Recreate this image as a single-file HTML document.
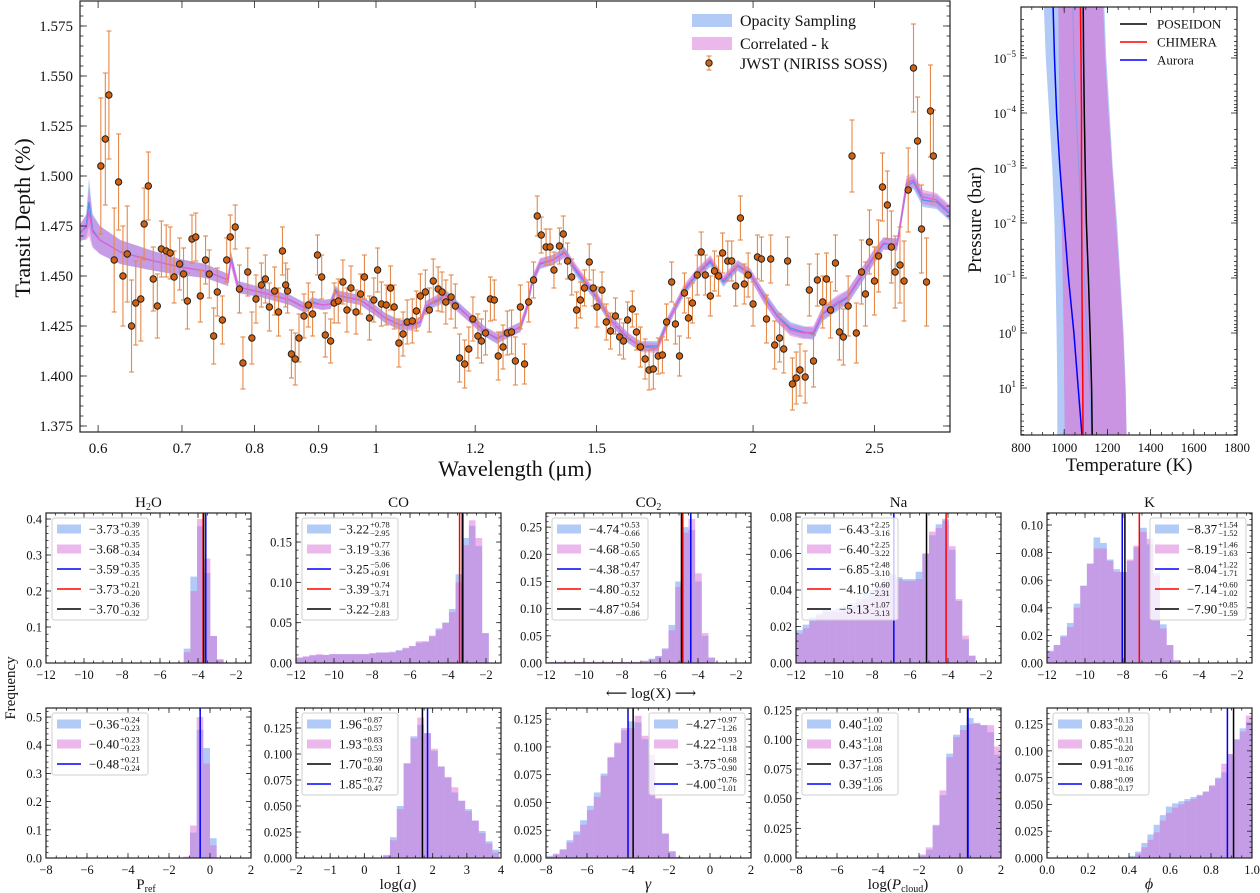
<!DOCTYPE html>
<html><head><meta charset="utf-8">
<style>
body{margin:0;background:#fff}
svg{display:block;font-family:"Liberation Serif","DejaVu Serif",serif}
</style></head>
<body>
<svg id="fig" width="1260" height="893" viewBox="0 0 1260 893" xmlns="http://www.w3.org/2000/svg">
<defs>
<clipPath id="clipMain"><rect x="80" y="1" width="870" height="431"/></clipPath>
<clipPath id="clipPT"><rect x="1021" y="7" width="216" height="428"/></clipPath>
</defs>
</svg>
<script>
// ---------------- MAIN SPECTRUM DATA ----------------
const obsWl = [0.603,0.608,0.612,0.618,0.623,0.628,0.633,0.638,0.643,0.649,0.653,0.658,0.664,0.669,
0.674,0.680,0.685,0.690,0.697,0.702,0.707,0.713,0.718,0.724,0.731,0.736,0.742,0.747,0.754,0.760,0.765,0.772,0.778,0.783,0.790,0.796,0.802,0.810,0.816,0.822,0.830,0.836,0.842,0.847,0.850,0.856,0.862,0.868,
0.876,0.883,0.890,0.898,0.905,0.911,0.920,0.926,0.933,0.941,0.948,0.955,0.964,0.972,0.979,0.988,0.996,1.003,1.010,1.019,1.027,1.034,1.043,1.051,1.059,1.069,1.077,1.085,1.095,1.103,1.111,1.121,1.129,1.137,1.148,1.157,1.166,1.177,1.186,1.195,1.206,1.214,1.223,1.234,1.243,1.252,1.263,1.273,1.283,1.292,1.304,
1.314,1.324,1.336,1.345,1.355,1.367,1.377,1.387,1.401,1.411,1.422,1.433,1.446,1.456,1.467,1.480,1.491,1.501,1.515,1.527,1.539,1.553,1.565,1.576,1.588,1.602,1.614,1.626,1.640,1.652,1.665,1.680,1.693,1.706,1.722,1.734,1.747,1.763,1.776,1.789,1.805,1.818,1.832,1.849,1.863,1.877,1.891,1.909,1.923,1.937,1.954,1.968,1.982,2.000,2.016,2.031,
2.050,2.066,2.081,2.100,2.116,2.131,2.150,2.165,2.180,2.201,2.218,2.235,2.251,2.273,2.289,2.306,2.327,2.344,2.361,2.382,2.399,2.418,2.441,
2.459,2.477,2.500,2.519,2.537,2.560,2.579,2.597,2.620,2.640,2.660,2.686,2.706,2.726,2.751,2.771,2.786];
const obsDepth = [1.505,1.5185,1.5405,1.458,1.497,1.450,1.461,1.425,1.4365,1.4385,1.476,1.495,1.4485,1.435,
1.4635,1.4625,1.4615,1.4495,1.456,1.451,1.4375,1.4685,1.4695,1.440,1.458,1.451,1.420,1.442,1.428,1.458,1.4695,1.4745,1.4435,1.4065,1.452,1.419,1.4385,1.4455,1.4485,1.4345,1.4425,1.432,1.4625,1.4455,1.4425,1.411,1.4085,1.419,
1.430,1.4355,1.431,1.4605,1.4495,1.4205,1.4175,1.4365,1.4375,1.447,1.433,1.444,1.432,1.441,1.4495,1.429,1.438,1.453,1.436,1.4355,1.444,1.4345,1.4165,1.421,1.427,1.4275,1.4325,1.440,1.442,1.433,1.4475,1.4435,1.442,1.437,1.4395,1.435,1.409,1.406,1.4135,1.4285,1.420,1.4175,1.4215,1.4385,1.438,1.410,1.4145,1.4215,1.422,1.4075,1.4345,
1.406,1.437,1.448,1.480,1.4705,1.4645,1.4645,1.453,1.465,1.471,1.4575,1.4495,1.433,1.438,1.444,1.457,1.444,1.4345,1.443,1.427,1.4225,1.430,1.4195,1.4175,1.428,1.4335,1.422,1.4145,1.4085,1.403,1.4035,1.410,1.4105,1.427,1.447,1.426,1.410,1.4415,1.429,1.4365,1.4505,1.462,1.4505,1.440,1.4525,1.450,1.4615,1.4575,1.4575,1.445,1.479,1.446,1.4505,1.436,1.4595,1.4585,
1.4285,1.4585,1.4155,1.419,1.4135,1.4575,1.396,1.399,1.403,1.3995,1.443,1.4075,1.448,1.437,1.4485,1.433,1.4565,1.422,1.4195,1.435,1.510,1.4215,1.452,
1.441,1.467,1.4475,1.460,1.4945,1.4855,1.4645,1.452,1.4555,1.4475,1.493,1.554,1.5175,1.4735,1.447,1.5325,1.510];
const obsErr = [0.034,0.033,0.032,0.026,0.024,0.025,0.024,0.023,0.021,0.021,0.018,0.017,0.016,0.016,
0.014,0.013,0.013,0.013,0.013,0.013,0.014,0.012,0.012,0.013,0.012,0.012,0.014,0.012,0.012,0.011,0.011,0.011,0.012,0.013,0.012,0.013,0.012,0.011,0.012,0.012,0.012,0.012,0.012,0.011,0.011,0.012,0.013,0.012,
0.011,0.011,0.011,0.010,0.011,0.011,0.011,0.010,0.011,0.011,0.011,0.011,0.011,0.010,0.011,0.011,0.011,0.011,0.011,0.010,0.011,0.011,0.012,0.011,0.011,0.011,0.010,0.011,0.011,0.011,0.011,0.011,0.010,0.011,0.011,0.011,0.012,0.012,0.011,0.011,0.011,0.011,0.011,0.011,0.010,0.012,0.011,0.011,0.011,0.012,0.011,
0.010,0.010,0.009,0.010,0.009,0.009,0.009,0.009,0.009,0.009,0.009,0.009,0.009,0.009,0.009,0.009,0.009,0.010,0.009,0.009,0.009,0.009,0.009,0.009,0.009,0.009,0.009,0.010,0.010,0.010,0.010,0.009,0.009,0.009,0.010,0.010,0.010,0.010,0.010,0.010,0.010,0.010,0.010,0.010,0.010,0.010,0.010,0.010,0.010,0.010,0.011,0.010,0.011,0.011,0.011,0.011,
0.012,0.012,0.012,0.012,0.012,0.012,0.013,0.013,0.013,0.013,0.013,0.013,0.013,0.013,0.013,0.014,0.014,0.014,0.014,0.015,0.018,0.015,0.016,
0.016,0.016,0.017,0.018,0.017,0.017,0.018,0.018,0.019,0.020,0.021,0.022,0.022,0.022,0.022,0.023,0.023];

const modelWl = [0.580,0.587,0.590,0.594,0.602,0.625,0.660,0.697,0.731,0.762,0.766,0.776,0.808,0.854,0.878,0.889,0.906,0.920,0.928,0.936,0.971,0.998,1.017,1.045,1.069,1.085,1.096,1.125,1.135,1.157,1.189,1.223,1.249,1.279,1.304,1.320,1.332,1.352,1.384,1.415,1.446,1.501,1.539,1.588,1.626,1.677,1.709,1.760,1.805,1.849,1.894,1.944,1.989,2.039,2.092,2.142,2.193,2.235,2.273,2.336,2.378,2.436,2.495,2.542,2.606,2.652,2.686,2.733,2.802,2.872];
const modelCK = [1.472,1.474,1.482,1.472,1.468,1.462,1.458,1.4545,1.4525,1.448,1.458,1.4445,1.442,1.438,1.434,1.4365,1.4355,1.436,1.442,1.440,1.438,1.433,1.429,1.4255,1.425,1.427,1.435,1.439,1.4405,1.4355,1.429,1.422,1.419,1.422,1.4245,1.4345,1.447,1.4565,1.458,1.4615,1.453,1.4395,1.428,1.4195,1.4145,1.414,1.4265,1.443,1.4515,1.458,1.448,1.4555,1.4515,1.4395,1.4295,1.423,1.4215,1.422,1.4315,1.437,1.4395,1.4495,1.4595,1.4665,1.4655,1.4965,1.498,1.4895,1.488,1.482];
const modelOS = [1.471,1.475,1.487,1.473,1.468,1.462,1.458,1.4545,1.4525,1.448,1.459,1.4445,1.442,1.438,1.434,1.437,1.4355,1.436,1.443,1.440,1.438,1.433,1.429,1.4255,1.426,1.427,1.435,1.438,1.441,1.436,1.429,1.422,1.4185,1.422,1.4245,1.434,1.447,1.456,1.458,1.462,1.452,1.439,1.428,1.419,1.415,1.415,1.427,1.442,1.451,1.457,1.447,1.455,1.451,1.440,1.430,1.424,1.422,1.421,1.431,1.436,1.439,1.449,1.459,1.466,1.466,1.495,1.497,1.488,1.487,1.481];
const modelSig = [0.004,0.006,0.012,0.008,0.007,0.006,0.005,0.004,0.0035,0.003,0.0035,0.003,0.0025,0.0025,0.0025,0.0025,0.0025,0.0025,0.0025,0.0025,0.0025,0.0025,0.0025,0.0025,0.0025,0.0025,0.0025,0.0025,0.0025,0.0025,0.0025,0.0025,0.0025,0.0025,0.0025,0.0025,0.0025,0.0025,0.0025,0.0025,0.0025,0.0025,0.0025,0.0025,0.0025,0.0025,0.0025,0.0025,0.0025,0.0025,0.0025,0.0025,0.0025,0.003,0.003,0.003,0.003,0.003,0.0035,0.0035,0.0035,0.0035,0.0035,0.003,0.003,0.0035,0.0035,0.0035,0.0035,0.0035];

const mainXTicks = [0.6,0.7,0.8,0.9,1,1.2,1.5,2,2.5];
const mainXLabels = ['0.6','0.7','0.8','0.9','1','1.2','1.5','2','2.5'];
const mainYTicks = [1.375,1.400,1.425,1.450,1.475,1.500,1.525,1.550,1.575];

// ---------------- P-T DATA ----------------
const ptLogP = [-6,-5,-4,-3,-2,-1,0,1,2];
const ptPoseidon = [1088,1090,1093,1097,1103,1112,1120,1127,1130];
const ptChimera = [1075,1078,1080,1080,1081,1082,1084,1086,1087];
const ptAurora = [948,955,965,980,1000,1020,1045,1065,1085];
const ptOSLo = [905,915,930,945,955,960,965,968,968];
const ptOSHi = [1185,1195,1210,1225,1245,1260,1275,1285,1290];
const ptCKLo = [972,975,978,982,988,993,997,1000,1003];
const ptCKHi = [1180,1190,1205,1222,1240,1257,1272,1283,1290];
const ptOSMed = [1040,1045,1055,1068,1080,1093,1105,1118,1128];
const ptTTicks = [800,1000,1200,1400,1600,1800];
const ptPTicks = [-5,-4,-3,-2,-1,0,1];

// ---------------- HISTOGRAM DATA ----------------
const h2oBins = [-4.75,0.35];
const h2oBlue = [0.04,0.24,0.38,0.25,0.075,0.01];
const h2oPink = [0.03,0.20,0.40,0.29,0.075,0.01];
const h2oLineVals = [-3.59,-3.73,-3.70];
const h2oLegend = [['−3.73','+0.39','−0.35'],['−3.68','+0.35','−0.34'],['−3.59','+0.35','−0.35'],['−3.73','+0.21','−0.20'],['−3.70','+0.36','−0.32']];

const coBins = [-12,0.35];
const coBlue = [0.007,0.008,0.010,0.010,0.010,0.011,0.011,0.011,0.011,0.011,0.011,0.012,0.013,0.013,0.013,0.016,0.018,0.021,0.025,0.027,0.033,0.043,0.050,0.067,0.110,0.155,0.170,0.145,0.037];
const coPink = [0.006,0.008,0.009,0.011,0.010,0.011,0.011,0.011,0.011,0.011,0.011,0.012,0.013,0.013,0.014,0.015,0.019,0.021,0.027,0.026,0.034,0.041,0.050,0.063,0.100,0.146,0.177,0.155,0.037];
const coLineVals = [-3.25,-3.39,-3.22];
const coLegend = [['−3.22','+0.78','−2.95'],['−3.19','+0.77','−3.36'],['−3.25','−5.06','+0.91'],['−3.39','+0.74','−3.71'],['−3.22','+0.81','−2.83']];

const co2Bins = [-11.85,0.35];
const co2Blue = [0.002,0.002,0.002,0.002,0.002,0.002,0.002,0.002,0.002,0.002,0.002,0.002,0.002,0.002,0.004,0.008,0.013,0.027,0.070,0.150,0.250,0.245,0.150,0.050,0.010];
const co2Pink = [0.001,0.002,0.002,0.002,0.002,0.002,0.002,0.002,0.002,0.002,0.002,0.002,0.002,0.002,0.004,0.007,0.012,0.025,0.060,0.140,0.240,0.265,0.165,0.055,0.010];
const co2LineVals = [-4.38,-4.80,-4.87];
const co2Legend = [['−4.74','+0.53','−0.66'],['−4.68','+0.50','−0.65'],['−4.38','+0.47','−0.57'],['−4.80','+0.37','−0.52'],['−4.87','+0.54','−0.86']];

const naBins = [-12,0.35];
const naBlue = [0.018,0.021,0.025,0.027,0.029,0.029,0.030,0.031,0.033,0.035,0.038,0.040,0.043,0.046,0.049,0.047,0.046,0.046,0.050,0.060,0.070,0.076,0.079,0.062,0.034,0.013,0.004];
const naPink = [0.016,0.019,0.023,0.026,0.028,0.028,0.028,0.030,0.031,0.033,0.035,0.037,0.041,0.044,0.048,0.046,0.045,0.045,0.046,0.060,0.072,0.074,0.078,0.064,0.035,0.015,0.004];
const naLineVals = [-6.85,-4.10,-5.13];
const naLegend = [['−6.43','+2.25','−3.16'],['−6.40','+2.25','−3.22'],['−6.85','+2.48','−3.10'],['−4.10','+0.60','−2.31'],['−5.13','+1.07','−3.13']];

const kBins = [-12,0.35];
const kBlue = [0.009,0.013,0.020,0.029,0.043,0.056,0.072,0.091,0.087,0.075,0.068,0.066,0.074,0.084,0.098,0.086,0.065,0.028,0.013,0.002];
const kPink = [0.008,0.013,0.019,0.026,0.040,0.056,0.072,0.083,0.083,0.074,0.066,0.066,0.075,0.085,0.095,0.090,0.063,0.025,0.013,0.002];
const kLineVals = [-8.04,-7.14,-7.90];
const kLegend = [['−8.37','+1.54','−1.52'],['−8.19','+1.46','−1.63'],['−8.04','+1.22','−1.71'],['−7.14','+0.60','−1.02'],['−7.90','+0.85','−1.59']];

const prefBins = [-1.3,0.325];
const prefBlue = [0.001,0.090,0.455,0.390,0.070];
const prefPink = [0.005,0.115,0.500,0.335,0.045];
const prefLineVals = [-0.48];
const prefLegend = [['−0.36','+0.24','−0.23'],['−0.40','+0.23','−0.23'],['−0.48','+0.21','−0.24']];

const logaBins = [0.55,0.2];
const logaBlue = [0.003,0.020,0.050,0.091,0.117,0.128,0.120,0.103,0.088,0.077,0.063,0.055,0.047,0.036,0.026,0.016,0.008];
const logaPink = [0.002,0.017,0.047,0.091,0.115,0.135,0.120,0.105,0.088,0.078,0.068,0.055,0.045,0.036,0.024,0.014,0.005];
const logaLineVals = [1.70,1.85];
const logaLegend = [['1.96','+0.87','−0.57'],['1.93','+0.83','−0.53'],['1.70','+0.59','−0.40'],['1.85','+0.72','−0.47']];

const gammaBins = [-8,0.333];
const gammaBlue = [0.002,0.003,0.008,0.016,0.024,0.034,0.047,0.059,0.076,0.091,0.103,0.115,0.123,0.122,0.107,0.088,0.053,0.022,0.006,0.001];
const gammaPink = [0.001,0.004,0.007,0.014,0.021,0.030,0.043,0.055,0.074,0.090,0.104,0.117,0.117,0.128,0.110,0.093,0.054,0.022,0.006,0.001];
const gammaLineVals = [-3.75,-4.00];
const gammaLegend = [['−4.27','+0.97','−1.26'],['−4.22','+0.93','−1.18'],['−3.75','+0.68','−0.90'],['−4.00','+0.76','−1.01']];

const pcloudBins = [-2,0.333];
const pcloudBlue = [0.002,0.007,0.028,0.053,0.088,0.104,0.112,0.118,0.114,0.112,0.106,0.087];
const pcloudPink = [0.003,0.009,0.027,0.057,0.085,0.102,0.108,0.113,0.113,0.112,0.112,0.094];
const pcloudLineVals = [0.37,0.39];
const pcloudLegend = [['0.40','+1.00','−1.02'],['0.43','+1.01','−1.08'],['0.37','+1.05','−1.08'],['0.39','+1.05','−1.06']];

const phiBins = [0.4,0.03];
const phiBlue = [0.002,0.006,0.014,0.022,0.031,0.040,0.048,0.051,0.053,0.055,0.057,0.059,0.062,0.067,0.075,0.080,0.097,0.111,0.121,0.127];
const phiPink = [0.001,0.004,0.010,0.017,0.024,0.035,0.042,0.047,0.050,0.053,0.055,0.058,0.062,0.068,0.074,0.088,0.097,0.110,0.118,0.133];
const phiLineVals = [0.91,0.88];
const phiLegend = [['0.83','+0.13','−0.20'],['0.85','+0.11','−0.20'],['0.91','+0.07','−0.16'],['0.88','+0.09','−0.17']];

// ---------------- DRAWING ----------------
const NS = 'http://www.w3.org/2000/svg';
const svg = document.getElementById('fig');
const BLUE_F = 'rgba(100,149,237,0.5)';
const PINK_F = 'rgba(218,112,214,0.5)';

function mk(tag, attrs, parent, name) {
  const el = document.createElementNS(NS, tag);
  for (const k in attrs) el.setAttribute(k, attrs[k]);
  
  
  parent.appendChild(el);
  return el;
}
function txt(parent, x, y, s, size, anchor, name, extra) {
  const t = mk('text', Object.assign({x: x, y: y, 'font-size': size, 'text-anchor': anchor || 'start', fill: '#111'}, extra || {}), parent, name);
  t.textContent = s;
  return t;
}
function line(p, x1, y1, x2, y2, stroke, w, name) {
  return mk('line', {x1: x1, y1: y1, x2: x2, y2: y2, stroke: stroke, 'stroke-width': w}, p, name);
}
function frame(p, x0, y0, x1, y1, name) {
  return mk('rect', {x: x0, y: y0, width: x1 - x0, height: y1 - y0, fill: 'none', stroke: '#222', 'stroke-width': 1.2}, p, name);
}
function tickSet(p, vals, isX, pos, box, L, name) {
  for (const v of vals) {
    const c = pos(v);
    if (isX) {
      if (c < box[0] - 0.5 || c > box[2] + 0.5) continue;
      line(p, c, box[3], c, box[3] - L, '#222', 0.8, name);
      line(p, c, box[1], c, box[1] + L, '#222', 0.8, name);
    } else {
      if (c < box[1] - 0.5 || c > box[3] + 0.5) continue;
      line(p, box[0], c, box[0] + L, c, '#222', 0.8, name);
      line(p, box[2], c, box[2] - L, c, '#222', 0.8, name);
    }
  }
}
function range(a, b, s) { const r = []; for (let v = a; v <= b + 1e-9; v += s) r.push(Math.round(v * 1e6) / 1e6); return r; }

// ===== Main spectrum =====
(function () {
  const g = mk('g', {}, svg, 'spectrum-panel');
  const X0 = 80, X1 = 950, Y0 = 1, Y1 = 432;
  const xs = w => 376 + 544 * Math.log(w);
  const ys = d => 26 + (1.575 - d) * 2000;
  const plot = mk('g', {'clip-path': 'url(#clipMain)'}, g, 'spectrum-plot-area');
  function band(med, col, name) {
    let d = '';
    med.forEach((m, i) => { d += (i ? 'L' : 'M') + xs(modelWl[i]).toFixed(1) + ',' + ys(m + modelSig[i]).toFixed(1); });
    for (let i = med.length - 1; i >= 0; i--) d += 'L' + xs(modelWl[i]).toFixed(1) + ',' + ys(med[i] - modelSig[i]).toFixed(1);
    mk('path', {d: d + 'Z', fill: col, stroke: 'none'}, plot, name);
  }
  function mline(med, col, name) {
    const pts = med.map((m, i) => xs(modelWl[i]).toFixed(1) + ',' + ys(m).toFixed(1)).join(' ');
    mk('polyline', {points: pts, fill: 'none', stroke: col, 'stroke-width': 1.3}, plot, name);
  }
  band(modelOS, BLUE_F, 'opacity-sampling-band');
  band(modelCK, PINK_F, 'correlated-k-band');
  mline(modelOS, '#4d90ee', 'opacity-sampling-line');
  mline(modelCK, '#e25fd6', 'correlated-k-line');
  const n = Math.min(obsWl.length, obsDepth.length, obsErr.length);
  for (let i = 0; i < n; i++) {
    const x = xs(obsWl[i]), yt = ys(obsDepth[i] + obsErr[i]), yb = ys(obsDepth[i] - obsErr[i]);
    line(plot, x, yt, x, yb, '#e5894a', 1.1, 'error-bar');
    line(plot, x - 2.5, yt, x + 2.5, yt, '#e5894a', 1.1, 'error-cap');
    line(plot, x - 2.5, yb, x + 2.5, yb, '#e5894a', 1.1, 'error-cap');
  }
  for (let i = 0; i < n; i++) {
    mk('circle', {cx: xs(obsWl[i]), cy: ys(obsDepth[i]), r: 3.2, fill: '#d2600e', stroke: '#222', 'stroke-width': 1}, plot, 'data-point');
  }
  frame(g, X0, Y0, X1, Y1, 'spectrum-frame');
  const box = [X0, Y0, X1, Y1];
  tickSet(g, mainXTicks, true, xs, box, 7, 'x-major-tick');
  tickSet(g, mainYTicks, false, ys, box, 7, 'y-major-tick');
  tickSet(g, range(1.370, 1.590, 0.005), false, ys, box, 3.5, 'y-minor-tick');
  mainXTicks.forEach((v, i) => txt(g, xs(v), 453, mainXLabels[i], 15, 'middle', 'x-tick-label'));
  mainYTicks.forEach(v => txt(g, 73, ys(v) + 5, v.toFixed(3), 15, 'end', 'y-tick-label'));
  txt(g, 515, 476, 'Wavelength (μm)', 22, 'middle', 'x-axis-title');
  txt(g, 0, 0, 'Transit Depth (%)', 22, 'middle', 'y-axis-title', {transform: 'translate(30,218) rotate(-90)'});
  const lg = mk('g', {}, g, 'spectrum-legend');
  mk('rect', {x: 692, y: 14, width: 40, height: 13, fill: BLUE_F}, lg, 'legend-opacity-sampling-patch');
  txt(lg, 740, 26, 'Opacity Sampling', 16, 'start', 'legend-opacity-sampling-label');
  mk('rect', {x: 692, y: 37, width: 40, height: 13, fill: PINK_F}, lg, 'legend-correlated-k-patch');
  txt(lg, 740, 49, 'Correlated - k', 16, 'start', 'legend-correlated-k-label');
  line(lg, 709, 56, 709, 70, '#e5894a', 1.1, 'legend-error-bar');
  line(lg, 706.5, 56, 711.5, 56, '#e5894a', 1.1, 'legend-error-cap');
  line(lg, 706.5, 70, 711.5, 70, '#e5894a', 1.1, 'legend-error-cap');
  mk('circle', {cx: 709, cy: 63, r: 3.2, fill: '#d2600e', stroke: '#222', 'stroke-width': 1}, lg, 'legend-data-marker');
  txt(lg, 740, 69, 'JWST (NIRISS SOSS)', 16, 'start', 'legend-jwst-label');
})();

// ===== P-T profile =====
(function () {
  const g = mk('g', {}, svg, 'pt-panel');
  const X0 = 1021, X1 = 1237, Y0 = 7, Y1 = 435;
  const xs = T => 1021 + (T - 800) * 0.216;
  const ys = lp => 58 + 55 * (lp + 5);
  const plot = mk('g', {'clip-path': 'url(#clipPT)'}, g, 'pt-plot-area');
  function band(lo, hi, col, name) {
    let d = '';
    ptLogP.forEach((p, i) => { d += (i ? 'L' : 'M') + xs(lo[i]).toFixed(1) + ',' + ys(p).toFixed(1); });
    for (let i = ptLogP.length - 1; i >= 0; i--) d += 'L' + xs(hi[i]).toFixed(1) + ',' + ys(ptLogP[i]).toFixed(1);
    mk('path', {d: d + 'Z', fill: col}, plot, name);
  }
  function prof(T, col, w, name) {
    mk('polyline', {points: ptLogP.map((p, i) => xs(T[i]).toFixed(1) + ',' + ys(p).toFixed(1)).join(' '), fill: 'none', stroke: col, 'stroke-width': w}, plot, name);
  }
  band(ptOSLo, ptOSHi, BLUE_F, 'opacity-sampling-pt-band');
  band(ptCKLo, ptCKHi, 'rgba(218,112,214,0.6)', 'correlated-k-pt-band');
  prof(ptOSMed, 'rgba(110,160,240,0.7)', 1, 'opacity-sampling-pt-edge');
  prof(ptAurora, '#0000ff', 1.5, 'aurora-profile');
  prof(ptChimera, '#ff0000', 1.5, 'chimera-profile');
  prof(ptPoseidon, '#000000', 1.5, 'poseidon-profile');
  frame(g, X0, Y0, X1, Y1, 'pt-frame');
  const box = [X0, Y0, X1, Y1];
  tickSet(g, ptTTicks, true, xs, box, 6, 'x-major-tick');
  tickSet(g, range(800, 1800, 50), true, xs, box, 3, 'x-minor-tick');
  tickSet(g, range(-6, 2, 1), false, ys, box, 6, 'y-major-tick');
  const minors = [];
  for (let d = -7; d <= 2; d++) for (let m = 2; m <= 9; m++) minors.push(d + Math.log10(m));
  tickSet(g, minors, false, ys, box, 3, 'y-minor-tick');
  ptTTicks.forEach(v => txt(g, xs(v), 452, String(v), 13, 'middle', 'x-tick-label'));
  ptPTicks.forEach(v => {
    const t = txt(g, 1016, ys(v) + 5, '10', 13, 'end', 'y-tick-label');
    const ts = document.createElementNS(NS, 'tspan');
    
    
    ts.setAttribute('font-size', '9');
    ts.setAttribute('dy', '-6');
    ts.textContent = v < 0 ? '−' + (-v) : String(v);
    t.appendChild(ts);
  });
  txt(g, 1129, 471, 'Temperature (K)', 19, 'middle', 'x-axis-title');
  txt(g, 0, 0, 'Pressure (bar)', 19, 'middle', 'y-axis-title', {transform: 'translate(981,220) rotate(-90)'});
  const lg = mk('g', {}, g, 'pt-legend');
  const names = ['POSEIDON', 'CHIMERA', 'Aurora'], cols = ['#000', '#ff0000', '#0000ff'];
  names.forEach((nm, i) => {
    line(lg, 1120, 24 + 18 * i, 1147, 24 + 18 * i, cols[i], 1.5, 'legend-' + nm.toLowerCase() + '-line');
    txt(lg, 1157, 28.5 + 18 * i, nm, 13, 'start', 'legend-' + nm.toLowerCase() + '-label');
  });
})();

// ===== Histograms =====
const panels = [
  {id: 'h2o', x0: 46, y0: 513, xmin: -12, xmax: -1.21, ymax: 0.4167, yMaj: 0.1, yDec: 1, xMaj: 2, xMin: 0.5, bins: h2oBins, blue: h2oBlue, pink: h2oPink, lv: h2oLineVals, lc: ['#0000ff', '#ff0000', '#000'], leg: h2oLegend, legKinds: ['pb', 'pp', 'b', 'r', 'k'], right: false, title: ['H', '2', 'O']},
  {id: 'co', x0: 296, y0: 513, xmin: -12, xmax: -1.21, ymax: 0.186, yMaj: 0.05, yDec: 2, xMaj: 2, xMin: 0.5, bins: coBins, blue: coBlue, pink: coPink, lv: coLineVals, lc: ['#0000ff', '#ff0000', '#000'], leg: coLegend, legKinds: ['pb', 'pp', 'b', 'r', 'k'], right: false, title: ['CO', '', '']},
  {id: 'co2', x0: 546, y0: 513, xmin: -12, xmax: -1.21, ymax: 0.276, yMaj: 0.05, yDec: 2, xMaj: 2, xMin: 0.5, bins: co2Bins, blue: co2Blue, pink: co2Pink, lv: co2LineVals, lc: ['#0000ff', '#ff0000', '#000'], leg: co2Legend, legKinds: ['pb', 'pp', 'b', 'r', 'k'], right: false, title: ['CO', '2', '']},
  {id: 'na', x0: 796, y0: 513, xmin: -12, xmax: -1.21, ymax: 0.0822, yMaj: 0.02, yDec: 2, xMaj: 2, xMin: 0.5, bins: naBins, blue: naBlue, pink: naPink, lv: naLineVals, lc: ['#0000ff', '#ff0000', '#000'], leg: naLegend, legKinds: ['pb', 'pp', 'b', 'r', 'k'], right: false, title: ['Na', '', '']},
  {id: 'k', x0: 1047, y0: 513, xmin: -12, xmax: -1.21, ymax: 0.1087, yMaj: 0.02, yDec: 2, xMaj: 2, xMin: 0.5, bins: kBins, blue: kBlue, pink: kPink, lv: kLineVals, lc: ['#0000ff', '#ff0000', '#000'], leg: kLegend, legKinds: ['pb', 'pp', 'b', 'r', 'k'], right: true, title: ['K', '', '']},
  {id: 'pref', x0: 46, y0: 708, xmin: -8, xmax: 2, ymax: 0.532, yMaj: 0.1, yDec: 1, xMaj: 2, xMin: 0.5, bins: prefBins, blue: prefBlue, pink: prefPink, lv: prefLineVals, lc: ['#0000ff'], leg: prefLegend, legKinds: ['pb', 'pp', 'b'], right: false},
  {id: 'loga', x0: 296, y0: 708, xmin: -2, xmax: 4, ymax: 0.1442, yMaj: 0.025, yDec: 3, xMaj: 1, xMin: 0.25, bins: logaBins, blue: logaBlue, pink: logaPink, lv: logaLineVals, lc: ['#000', '#0000ff'], leg: logaLegend, legKinds: ['pb', 'pp', 'k', 'b'], right: false},
  {id: 'gamma', x0: 546, y0: 708, xmin: -8, xmax: 2, ymax: 0.135, yMaj: 0.025, yDec: 3, xMaj: 2, xMin: 0.5, bins: gammaBins, blue: gammaBlue, pink: gammaPink, lv: gammaLineVals, lc: ['#000', '#0000ff'], leg: gammaLegend, legKinds: ['pb', 'pp', 'k', 'b'], right: true},
  {id: 'pcloud', x0: 796, y0: 708, xmin: -8, xmax: 2, ymax: 0.1265, yMaj: 0.025, yDec: 3, xMaj: 2, xMin: 0.5, bins: pcloudBins, blue: pcloudBlue, pink: pcloudPink, lv: pcloudLineVals, lc: ['#000', '#0000ff'], leg: pcloudLegend, legKinds: ['pb', 'pp', 'k', 'b'], right: false},
  {id: 'phi', x0: 1047, y0: 708, xmin: 0, xmax: 1, ymax: 0.140, yMaj: 0.025, yDec: 3, xMaj: 0.2, xMin: 0.05, bins: phiBins, blue: phiBlue, pink: phiPink, lv: phiLineVals, lc: ['#000', '#0000ff'], leg: phiLegend, legKinds: ['pb', 'pp', 'k', 'b'], right: false}
];

panels.forEach(P => {
  const W = 205, H = 150;
  const X0 = P.x0, X1 = P.x0 + W, Y0 = P.y0, Y1 = P.y0 + H;
  const g = mk('g', {}, svg, P.id + '-histogram-panel');
  const xs = v => X0 + (v - P.xmin) / (P.xmax - P.xmin) * W;
  const ys = v => Y1 - v / P.ymax * H;
  const cid = 'clip-' + P.id;
  const cp = mk('clipPath', {id: cid}, svg, P.id + '-clip');
  mk('rect', {x: X0, y: Y0, width: W, height: H}, cp, P.id + '-clip-rect');
  const plot = mk('g', {'clip-path': 'url(#' + cid + ')'}, g, P.id + '-plot-area');
  function bars(arr, col, name) {
    arr.forEach((c, i) => {
      const a = P.bins[0] + i * P.bins[1], b = a + P.bins[1];
      mk('rect', {x: xs(a), y: ys(c), width: Math.max(0, xs(b) - xs(a)), height: Math.max(0, Y1 - ys(c)), fill: col}, plot, name);
    });
  }
  bars(P.blue, BLUE_F, 'opacity-sampling-bar');
  bars(P.pink, PINK_F, 'correlated-k-bar');
  P.lv.forEach((v, i) => line(plot, xs(v), Y0, xs(v), Y1, P.lc[i], 1.5, 'median-line'));
  frame(g, X0, Y0, X1, Y1, P.id + '-frame');
  const box = [X0, Y0, X1, Y1];
  const xMaj = range(Math.ceil(P.xmin / P.xMaj) * P.xMaj, P.xmax, P.xMaj);
  tickSet(g, xMaj, true, xs, box, 5, 'x-major-tick');
  tickSet(g, range(P.xmin, P.xmax, P.xMin), true, xs, box, 2.5, 'x-minor-tick');
  const yMaj = range(0, P.ymax, P.yMaj);
  tickSet(g, yMaj, false, ys, box, 5, 'y-major-tick');
  tickSet(g, range(0, P.ymax, P.yMaj / 5), false, ys, box, 2.5, 'y-minor-tick');
  xMaj.forEach(v => {
    let s = P.xMaj < 1 ? v.toFixed(1) : String(Math.round(v));
    s = s.replace('-', '−');
    txt(g, xs(v), Y1 + 16, s, 12.5, 'middle', 'x-tick-label');
  });
  yMaj.forEach(v => txt(g, X0 - 4, ys(v) + 4.5, v.toFixed(P.yDec), 12.5, 'end', 'y-tick-label'));
  if (P.title) {
    const t = txt(g, X0 + W / 2, Y0 - 6, P.title[0], 15, 'middle', P.id + '-title');
    if (P.title[1]) {
      const s1 = document.createElementNS(NS, 'tspan');
      
      
      s1.setAttribute('font-size', '10'); s1.setAttribute('dy', '3');
      s1.textContent = P.title[1];
      t.appendChild(s1);
      if (P.title[2]) {
        const s2 = document.createElementNS(NS, 'tspan');
        
        
        s2.setAttribute('dy', '-3');
        s2.textContent = P.title[2];
        t.appendChild(s2);
      }
    }
  }
  const n = P.leg.length;
  const LW = 96, LH = 20 * n + 2;
  const lx = P.right ? X1 - 6 - LW : X0 + 6, ly = Y0 + 5;
  const lg = mk('g', {}, g, P.id + '-legend');
  mk('rect', {x: lx, y: ly, width: LW, height: LH, rx: 2.5, fill: 'rgba(255,255,255,0.8)', stroke: '#cfcfcf', 'stroke-width': 1}, lg, P.id + '-legend-frame');
  P.leg.forEach((e, i) => {
    const cy = ly + 11 + 20 * i;
    const kind = P.legKinds[i];
    if (kind === 'pb') mk('rect', {x: lx + 5, y: cy - 4.5, width: 24, height: 9, fill: BLUE_F}, lg, 'legend-opacity-sampling-patch');
    else if (kind === 'pp') mk('rect', {x: lx + 5, y: cy - 4.5, width: 24, height: 9, fill: PINK_F}, lg, 'legend-correlated-k-patch');
    else line(lg, lx + 5, cy, lx + 29, cy, kind === 'b' ? '#0000ff' : kind === 'r' ? '#ff0000' : '#000', 1.5, 'legend-line-sample');
    const t = txt(lg, lx + 37, cy + 4.5, e[0], 13, 'start', 'legend-value');
    let w = 27;
    try { w = t.getComputedTextLength(); } catch (err) {}
    txt(lg, lx + 37 + w + 1, cy - 1.5, e[1], 8.5, 'start', 'legend-upper-error');
    txt(lg, lx + 37 + w + 1, cy + 7, e[2], 8.5, 'start', 'legend-lower-error');
  });
});

(function () {
  const g = mk('g', {}, svg, 'histogram-labels');
  txt(g, 0, 0, 'Frequency', 15, 'middle', 'frequency-axis-title', {transform: 'translate(15,688) rotate(-90)'});
  txt(g, 651, 698, '⟵ log(X) ⟶', 15, 'middle', 'logx-axis-title');
  const pr = txt(g, 146, 889, 'P', 15, 'middle', 'pref-axis-title');
  const s = document.createElementNS(NS, 'tspan');
  
  
  s.setAttribute('font-size', '10'); s.setAttribute('dy', '3');
  s.textContent = 'ref';
  pr.appendChild(s);
  const la = txt(g, 398, 889, 'log(', 15, 'middle', 'loga-axis-title');
  const a = document.createElementNS(NS, 'tspan');
  
  
  a.setAttribute('font-style', 'italic');
  a.textContent = 'a';
  la.appendChild(a);
  la.appendChild(document.createTextNode(')'));
  txt(g, 648, 889, 'γ', 16, 'middle', 'gamma-axis-title', {'font-style': 'italic'});
  const lp = txt(g, 898, 889, 'log(', 15, 'middle', 'pcloud-axis-title');
  const pp = document.createElementNS(NS, 'tspan');
  
  
  pp.setAttribute('font-style', 'italic');
  pp.textContent = 'P';
  lp.appendChild(pp);
  const ps = document.createElementNS(NS, 'tspan');
  
  
  ps.setAttribute('font-size', '10'); ps.setAttribute('dy', '3');
  ps.textContent = 'cloud';
  lp.appendChild(ps);
  const pe = document.createElementNS(NS, 'tspan');
  
  
  pe.setAttribute('dy', '-3');
  pe.textContent = ')';
  lp.appendChild(pe);
  txt(g, 1149, 889, 'ϕ', 16, 'middle', 'phi-axis-title', {'font-style': 'italic'});
})();
</script>
</body></html>
